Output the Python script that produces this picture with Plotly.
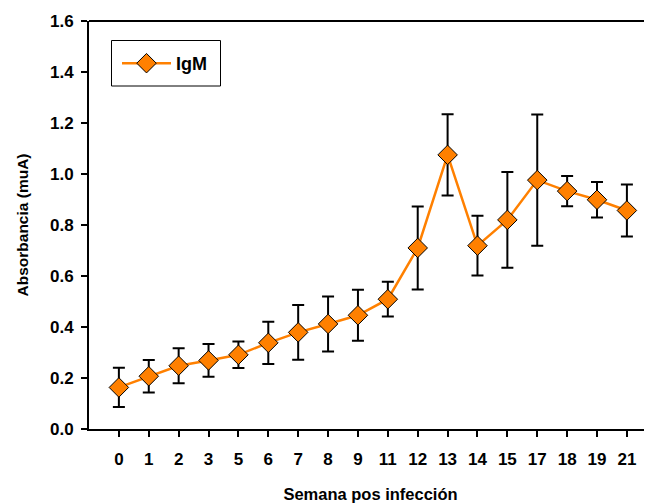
import plotly.graph_objects as go

weeks = ["0", "1", "2", "3", "5", "6", "7", "8", "9", "11", "12", "13", "14", "15", "17", "18", "19", "21"]
igm = [0.163, 0.207, 0.248, 0.269, 0.291, 0.338, 0.379, 0.412, 0.446, 0.509, 0.710, 1.075, 0.719, 0.820, 0.976, 0.933, 0.899, 0.857]
igm_err = [0.077, 0.064, 0.069, 0.064, 0.052, 0.083, 0.107, 0.108, 0.100, 0.068, 0.163, 0.159, 0.117, 0.188, 0.257, 0.059, 0.070, 0.102]
y_ticks = [0.0, 0.2, 0.4, 0.6, 0.8, 1.0, 1.2, 1.4, 1.6]

ORANGE = "#FF8000"
FONT = "Liberation Sans, Arial, sans-serif"

OFF = 8  # page body margin
W, H = 652 - OFF, 503 - OFF
ML, MR, MT, MB = 89 - OFF, 0, 21 - OFF, 74
PW, PH = W - ML - MR, H - MT - MB


def px_x(x):
    return (x - OFF - ML) / PW


def px_y(y):
    return (H - MB - (y - OFF)) / PH


fig = go.Figure()
fig.add_trace(go.Scatter(
    x=weeks, y=igm, name="IgM", mode="lines+markers",
    line=dict(color=ORANGE, width=2.5),
    marker=dict(symbol="diamond", size=15, color=ORANGE, line=dict(color="black", width=1)),
    error_y=dict(type="data", array=igm_err, visible=True, color="black", thickness=2, width=6),
))

fig.update_layout(
    template="none",
    width=W, height=H,
    margin=dict(l=ML, r=MR, t=MT, b=MB),
    paper_bgcolor="white", plot_bgcolor="white",
    font=dict(family=FONT, color="black"),
    showlegend=True,
    legend=dict(x=px_x(117), y=px_y(63.5), xanchor="left", yanchor="middle",
                borderwidth=0, bgcolor="rgba(0,0,0,0)",
                font=dict(family=FONT, size=18, weight="bold", color="black"),
                tracegroupgap=0, itemwidth=49),
    shapes=[
        dict(type="line", xref="paper", yref="paper", x0=0, x1=1, y0=1, y1=1,
             line=dict(color="black", width=2)),
        dict(type="rect", xref="paper", yref="paper",
             x0=px_x(111.5), x1=px_x(220.5), y0=px_y(86), y1=px_y(40.5),
             line=dict(color="black", width=1), fillcolor="rgba(0,0,0,0)", layer="below"),
    ],
)

fig.update_xaxes(
    type="category", categoryorder="array", categoryarray=weeks,
    range=[-1, 17.84], automargin=False,
    showline=True, linecolor="black", linewidth=2,
    ticks="outside", ticklen=6, tickwidth=2, tickcolor="black",
    showgrid=False, zeroline=False,
    tickfont=dict(family=FONT, size=17, weight="bold", color="black"),
    ticklabelstandoff=8,
    title=dict(text="Semana pos infección", standoff=20,
               font=dict(family=FONT, size=16.5, weight="bold", color="black")),
)
fig.update_yaxes(
    range=[0, 1.6], tickvals=y_ticks, ticktext=[f"{v:.1f}" for v in y_ticks],
    automargin=False,
    showline=True, linecolor="black", linewidth=2,
    ticks="outside", ticklen=6, tickwidth=2, tickcolor="black",
    showgrid=False, zeroline=False,
    tickfont=dict(family=FONT, size=17, weight="bold", color="black"),
    ticklabelstandoff=4,
    title=dict(text="Absorbancia (muA)", standoff=18,
               font=dict(family=FONT, size=15.5, weight="bold", color="black")),
)

fig.write_html("out.html")
